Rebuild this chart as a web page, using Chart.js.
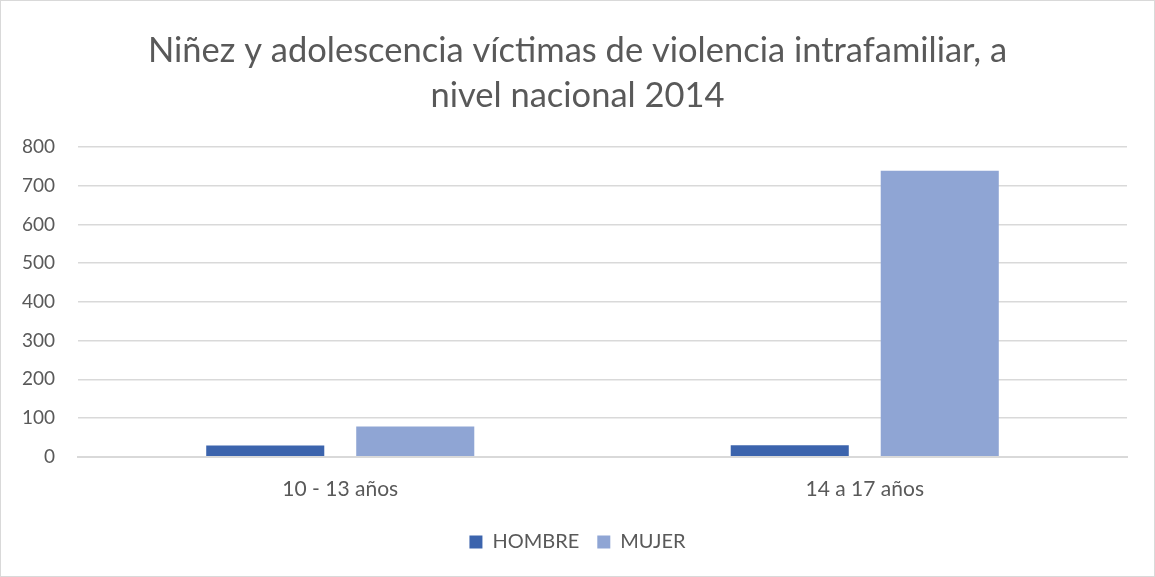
<!DOCTYPE html>
<html><head><meta charset="utf-8">
<script src="https://cdn.jsdelivr.net/npm/chart.js@4"></script>
<style>
html,body{margin:0;padding:0;background:#fff;}
#wrap{position:absolute;left:0;top:0;width:1153px;height:575px;border:1px solid #d9d9d9;}
</style></head><body>
<div id="wrap"><canvas id="c" width="1153" height="575"></canvas></div>
<script>
const categories = ["10 - 13 años", "14 a 17 años"];
const hombre = [29, 30];
const mujer = [78, 739];
const titleLines = ["Niñez y adolescencia víctimas de violencia intrafamiliar, a", "nivel nacional 2014"];
const yTicks = [0, 100, 200, 300, 400, 500, 600, 700, 800];

const FONT = "Lato, 'Liberation Sans', sans-serif";
new Chart(document.getElementById('c'), {
  type: 'bar',
  data: {
    labels: categories,
    datasets: [
      {label: 'HOMBRE', data: hombre, backgroundColor: '#3c64ad', categoryPercentage: 0.572, barPercentage: 0.787},
      {label: 'MUJER', data: mujer, backgroundColor: '#8fa5d4', categoryPercentage: 0.572, barPercentage: 0.787}
    ]
  },
  options: {
    responsive: false,
    animation: false,
    layout: {padding: {left: 0, right: 0, top: 27, bottom: 14}},
    plugins: {
      title: {display: true, text: titleLines, color: '#595959', font: {family: FONT, size: 34.5, weight: 'normal', lineHeight: 1.32}, padding: {top: 0, bottom: 28}},
      legend: {position: 'bottom', labels: {color: '#595959', font: {family: FONT, size: 20}, boxWidth: 13, boxHeight: 13, padding: 18}},
      tooltip: {enabled: false}
    },
    scales: {
      x: {
        grid: {display: false},
        border: {display: true, color: '#d9d9d9', width: 2},
        ticks: {color: '#595959', font: {family: FONT, size: 21}, padding: 12}
      },
      y: {
        min: 0, max: 800,
        afterBuildTicks: (ax) => { ax.ticks = yTicks.map(v => ({value: v})); },
        afterFit: (ax) => { ax.width = 77; },
        grid: {color: '#d9d9d9', lineWidth: 1.5, drawTicks: false},
        border: {display: false},
        ticks: {color: '#595959', font: {family: FONT, size: 19}, padding: 23}
      },
      y2: {
        position: 'right',
        min: 0, max: 800,
        afterFit: (ax) => { ax.width = 27; },
        grid: {display: false},
        border: {display: false},
        ticks: {display: false}
      }
    }
  }
});
</script></body></html>
